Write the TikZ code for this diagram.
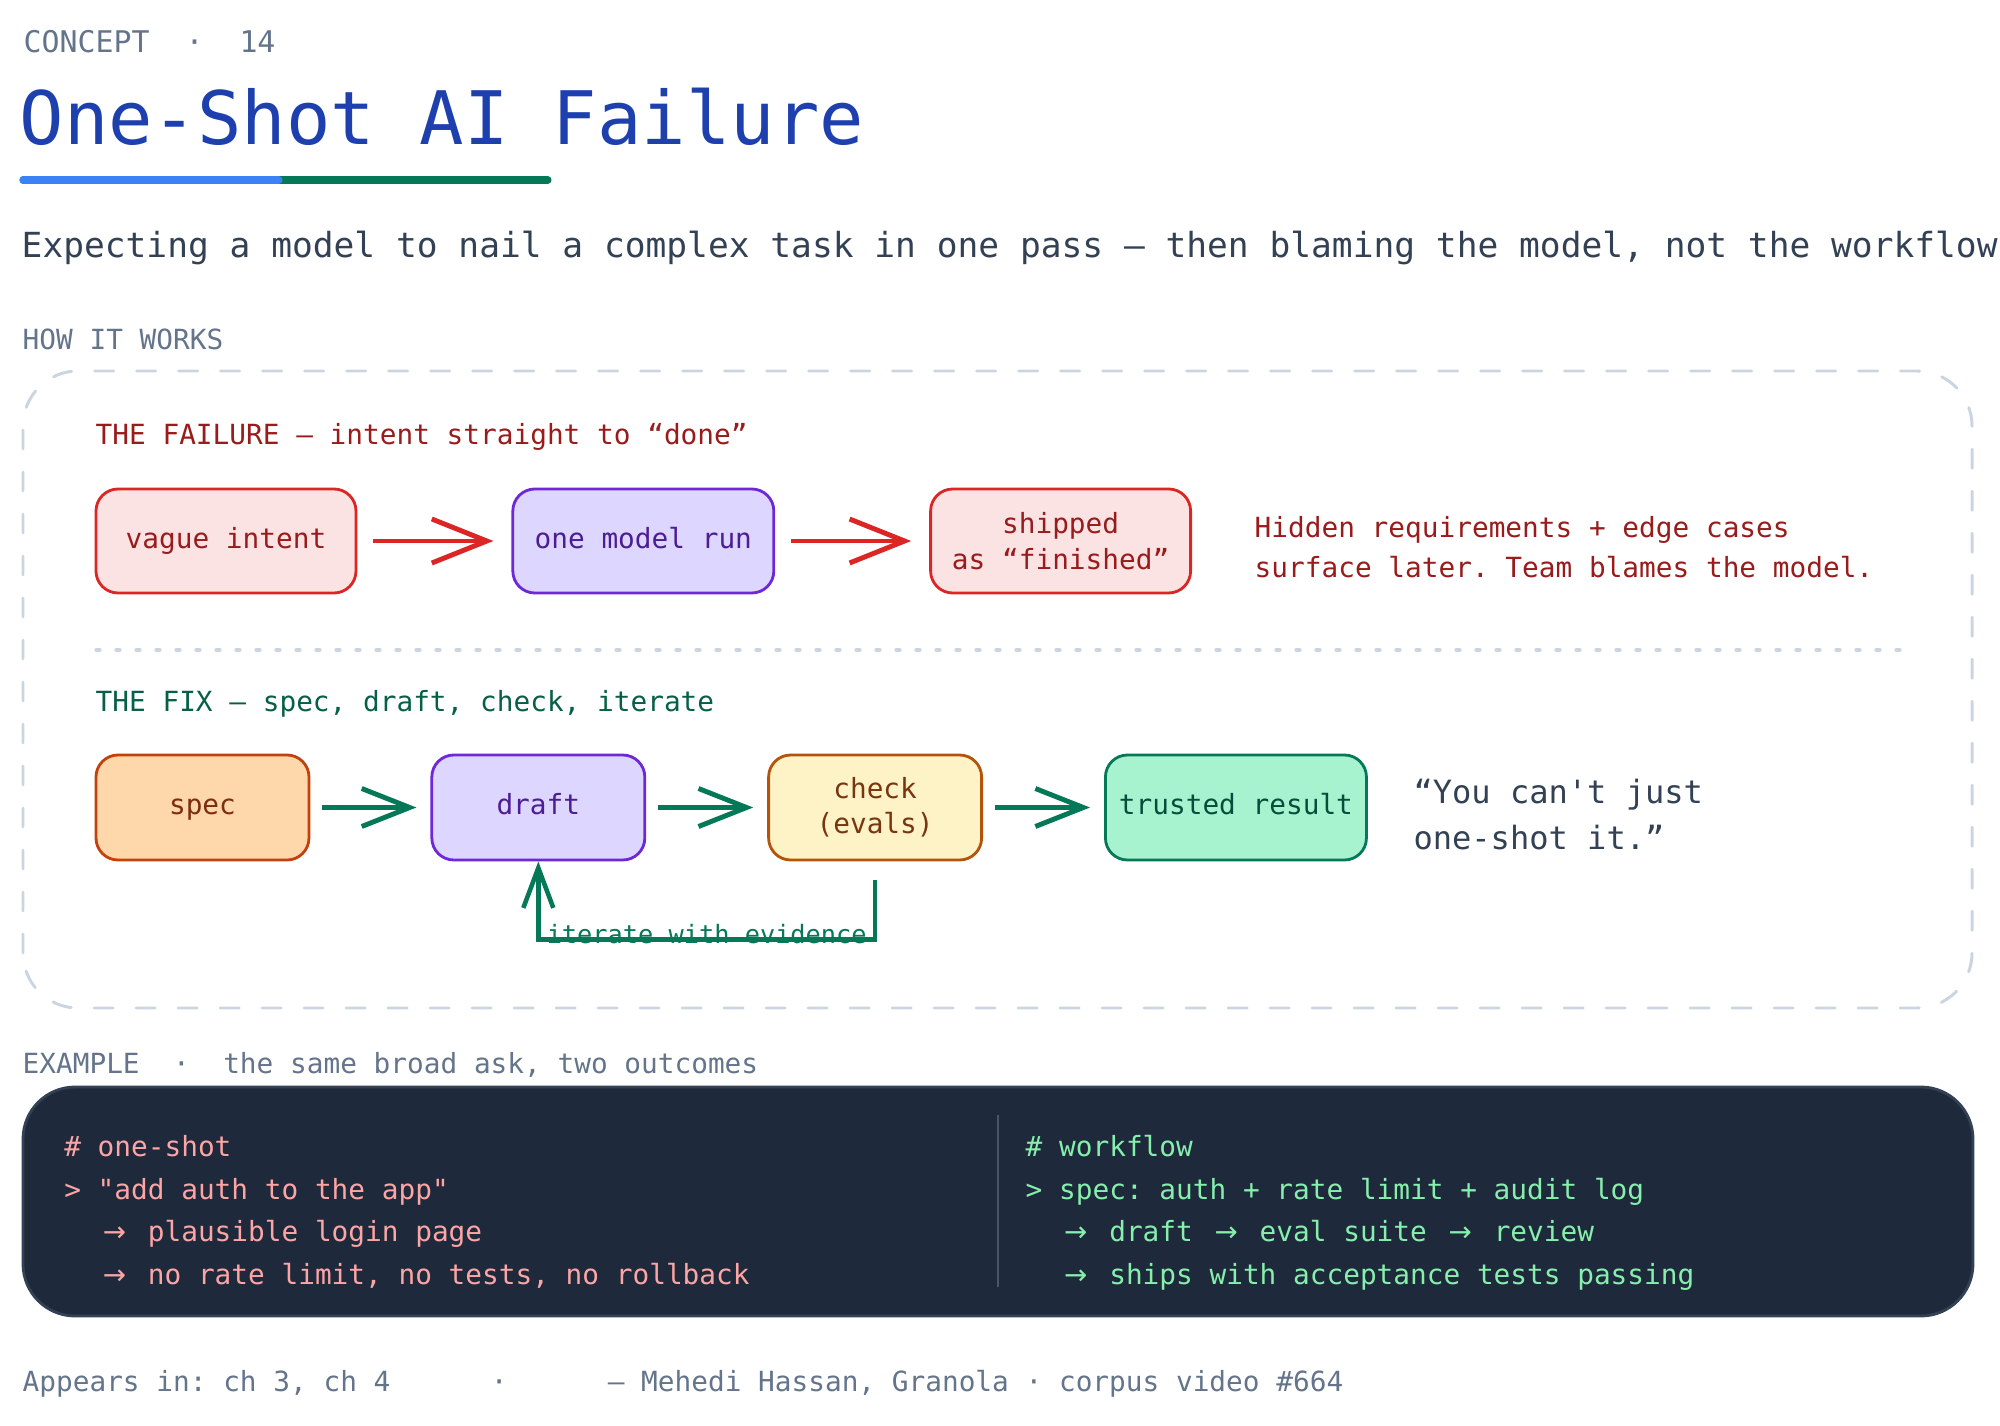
\documentclass[tikz,border=0pt]{standalone}
\usepackage{fontspec}
\setmonofont{DejaVu Sans Mono}
\newfontfamily\arrowfont{DejaVu Sans}
\usepackage{tikz}
\usetikzlibrary{positioning,arrows.meta}
\definecolor{slate}{HTML}{64748B}
\definecolor{ink}{HTML}{334155}
\definecolor{navy}{HTML}{1E40AF}
\definecolor{sky}{HTML}{3B82F6}
\definecolor{pine}{HTML}{047857}
\definecolor{mist}{HTML}{CBD5E1}
\definecolor{wine}{HTML}{991B1B}
\definecolor{alarm}{HTML}{DC2626}
\definecolor{blush}{HTML}{FCE3E3}
\definecolor{lilac}{HTML}{DDD6FE}
\definecolor{iris}{HTML}{6D28D9}
\definecolor{grape}{HTML}{4C1D95}
\definecolor{forest}{HTML}{065F46}
\definecolor{peach}{HTML}{FED7AA}
\definecolor{rust}{HTML}{C2410C}
\definecolor{brick}{HTML}{7C2D12}
\definecolor{cream}{HTML}{FEF3C7}
\definecolor{amber}{HTML}{B45309}
\definecolor{umber}{HTML}{78350F}
\definecolor{mint}{HTML}{A7F3D0}
\definecolor{deepgreen}{HTML}{064E3B}
\definecolor{night}{HTML}{1E293B}
\definecolor{rim}{HTML}{334155}
\definecolor{salmon}{HTML}{FCA5A5}
\definecolor{sprout}{HTML}{86EFAC}
\definecolor{seam}{HTML}{475569}
\newcommand{\wa}{\makebox[1.204em]{\arrowfont →}}

\begin{document}
\begin{tikzpicture}[
  node distance=15.4mm,
  card/.style={draw, rounded corners=2.2mm, align=center, inner sep=0pt, minimum height=10.4mm, line width=0.8pt, font=\ttfamily\fontsize{7.9}{10.1}\selectfont},
  oneline/.style={text height=6pt, text depth=1.9pt},
  bad/.style={card, minimum width=26mm, fill=blush, draw=alarm, text=wine},
  model/.style={card, oneline, minimum width=21.3mm, minimum height=10.5mm, fill=lilac, draw=iris, text=grape},
  specbox/.style={card, oneline, minimum width=21.3mm, minimum height=10.5mm, fill=peach, draw=rust, text=brick},
  evalbox/.style={card, minimum width=21.3mm, minimum height=10.5mm, fill=cream, draw=amber, text=umber},
  okbox/.style={card, oneline, minimum width=26.1mm, minimum height=10.5mm, fill=mint, draw=pine, text=deepgreen},
  tag/.style={anchor=base west, inner sep=0pt, text=slate, font=\ttfamily\fontsize{7.9}{9.5}\selectfont\frenchspacing},
  sect/.style={tag, text=#1},
  why/.style={align=left, inner sep=0pt, text=wine, font=\ttfamily\fontsize{7.9}{11.4}\selectfont\frenchspacing},
  quote/.style={align=left, inner sep=0pt, text=ink, font=\ttfamily\fontsize{9.12}{13.1}\selectfont},
  code/.style={align=left, inner sep=0pt, font=\ttfamily\fontsize{7.9}{12.15}\selectfont},
  note/.style={inner sep=0pt, text=pine, font=\ttfamily\fontsize{7.2}{8.6}\selectfont},
  panel/.style={draw=rim, fill=night, rounded corners=5.2mm, line width=0.8pt, minimum width=19.5cm, minimum height=2.29cm},
  frame/.style={draw=mist, line width=0.85pt, line cap=round, dash pattern=on 1.9mm off 2.3mm, rounded corners=5.5mm},
  sep/.style={draw=mist, line width=0.9pt, line cap=round, dash pattern=on 0.4mm off 1.6mm},
  redarr/.style={-{Straight Barb[length=5.5mm, width=4.4mm]}, line width=1.4pt, alarm, shorten <=1.6mm, shorten >=1.8mm},
  greenarr/.style={-{Straight Barb[length=4.8mm, width=3.8mm]}, line width=1.4pt, pine, shorten <=1.2mm, shorten >=1.4mm},
  back/.style={-{Straight Barb[length=4mm, width=3mm]}, line width=1.3pt, pine}
]
\clip (0,0) rectangle (20,14.25);

\node[tag, font=\ttfamily\fontsize{8.5}{10}\selectfont] (kicker) at (0.23,13.72) {CONCEPT\ \ ·\ \ 14};
\node[anchor=base west, inner sep=0pt, text=navy, font=\ttfamily\fontsize{21}{25}\selectfont] (title) at (0.19,12.80) {One-Shot AI Failure};
\draw[pine, line width=2pt, line cap=round] (0.23,12.45) -- (5.48,12.45);
\draw[sky, line width=2pt, line cap=round] (0.23,12.45) -- (2.79,12.45);
\node[tag, text=ink, font=\ttfamily\fontsize{9.83}{12}\selectfont] (lede) at (0.21,11.67) {Expecting a model to nail a complex task in one pass — then blaming the model, not the workflow};
\node[tag] (how) at (0.22,10.75) {HOW IT WORKS};

\draw[frame] (0.23,4.17) rectangle (19.72,10.54);

\node[sect=wine] (failhead) at (0.95,9.80) {THE FAILURE — intent straight to “done”};
\node[bad] (intent) at (2.26,8.84) {vague intent};
\node[model, right=of intent, minimum width=26.1mm, minimum height=10.4mm] (run) {one model run};
\node[bad, right=of run] (shipped) {shipped\\as “finished”};
\node[why, right=6.2mm of shipped, yshift=-0.6mm] (why) {Hidden requirements + edge cases\\surface later. Team blames the model.};

\draw[redarr] (intent) -- (run);
\draw[redarr] (run) -- (shipped);

\draw[sep] (0.96,7.75) -- (19.0,7.75);

\node[sect=forest] (fixhead) at (0.95,7.13) {THE FIX — spec, draft, check, iterate};
\node[specbox] (spec) at (2.025,6.175) {spec};
\node[model, right=12mm of spec] (draft) {draft};
\node[evalbox, right=12.1mm of draft] (check) {check\\(evals)};
\node[okbox, right=12.1mm of check] (trusted) {trusted result};
\node[quote, right=4.5mm of trusted, yshift=-0.75mm] (quote) {“You can't just\\one-shot it.”};

\draw[greenarr] (spec) -- (draft);
\draw[greenarr] (draft) -- (check);
\draw[greenarr] (check) -- (trusted);
\draw[back] ([yshift=-1.9mm]check.south) -- ++(0,-5.9mm) -| node[note, pos=0.25, yshift=0.5mm] {iterate with evidence} (draft.south);

\node[tag] (example) at (0.22,3.52) {EXAMPLE\ \ ·\ \ the same broad ask, two outcomes};
\node[panel] (panel) at (9.98,2.235) {};
\draw[seam, line width=0.5pt] ([yshift=-2.9mm]panel.north) -- ([yshift=3mm]panel.south);
\node[code, text=salmon, below right=4.9mm and 4.2mm of panel.north west] (oneshot) {\#\ one-shot\\>\ "add auth to the app"\\\ \ \wa\ plausible login page\\\ \ \wa\ no rate limit, no tests, no rollback};
\node[code, text=sprout, below right=4.9mm and 2.7mm of panel.north] (workflow) {\#\ workflow\\>\ spec: auth + rate limit + audit log\\\ \ \wa\ draft \wa\ eval suite \wa\ review\\\ \ \wa\ ships with acceptance tests passing};

\node[tag] (footer) at (0.22,0.34) {Appears in: ch 3, ch 4\ \ \ \ \ \ ·\ \ \ \ \ \ — Mehedi Hassan, Granola · corpus video \#664};
\end{tikzpicture}
\end{document}
